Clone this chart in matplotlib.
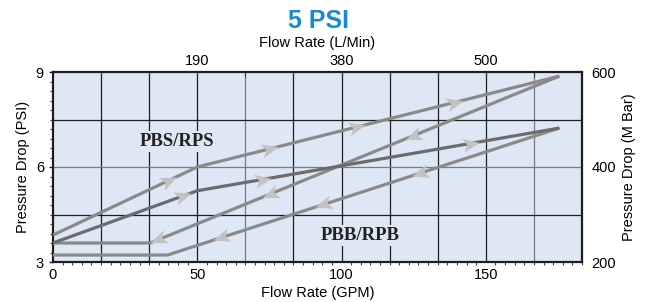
import numpy as np
import matplotlib
matplotlib.use("Agg")
import matplotlib.pyplot as plt
from matplotlib.path import Path
from matplotlib.markers import MarkerStyle
from matplotlib.transforms import Affine2D
from matplotlib.ticker import MultipleLocator, FixedLocator

plt.rcParams['font.family'] = ['Liberation Sans', 'DejaVu Sans']

# Data (GPM, PSI)
pbs_up_x = [0, 50, 175.5]
pbs_up_y = [3.85, 6.0, 8.87]
pbs_down_x = [175.5, 33.7, 0]
pbs_down_y = [8.87, 3.6, 3.6]
pbb_up_x = [0, 50, 175.5]
pbb_up_y = [3.6, 5.25, 7.23]
pbb_down_x = [175.5, 39.7, 0]
pbb_down_y = [7.23, 3.22, 3.22]

# where the flow arrows sit (GPM)
pbs_up_arrows = [39.7, 75, 105, 139]
pbs_down_arrows = [36.9, 75.5, 125]
pbb_up_arrows = [44.8, 72.4, 144.5]
pbb_down_arrows = [58.6, 93.8, 127.6]

top_ticks = [50, 100, 150]
top_labels = ['190', '380', '500']
right_ticks = [200, 400, 600]

BG = '#dee8f4'
LIGHT = '#8a8a8a'
DARK = '#6c6c6c'
ARROW = '#c2c2c2'

fig = plt.figure(figsize=(6.49, 3.02), dpi=100)
ax = fig.add_axes([53 / 649, 1 - 262 / 302, 529 / 649, 190 / 302])
ax.set_facecolor(BG)
ax.set_xlim(0, 550 / 3)
ax.set_ylim(3, 9)

# grid
for k in range(1, 11):
    c = '#7a7a7a' if k in (4, 10) else '#1e1e1e'
    ax.axvline(k * 50 / 3, color=c, lw=0.9, zorder=1)
for v in [4.5, 6.0, 7.5]:
    c = '#7a7a7a' if v == 6.0 else '#1e1e1e'
    ax.axhline(v, color=c, lw=0.9, zorder=1)

ax.plot(pbs_up_x, pbs_up_y, color=LIGHT, lw=2.3, zorder=3, solid_capstyle='butt')
ax.plot(pbs_down_x, pbs_down_y, color=LIGHT, lw=2.3, zorder=3, solid_capstyle='butt')
ax.plot(pbb_down_x, pbb_down_y, color=LIGHT, lw=2.3, zorder=3, solid_capstyle='butt')
ax.plot(pbb_up_x, pbb_up_y, color=DARK, lw=2.3, zorder=3, solid_capstyle='butt')

chevron = Path([(1, 0), (-0.8, 0.75), (-0.35, 0), (-0.8, -0.75), (1, 0)],
               [Path.MOVETO, Path.LINETO, Path.LINETO, Path.LINETO, Path.CLOSEPOLY])


def draw_arrows(px, py, xs, forward):
    order = np.argsort(px)
    sx = np.array(px)[order]
    sy = np.array(py)[order]
    for x in xs:
        y = np.interp(x, sx, sy)
        p0 = ax.transData.transform((x - 1, np.interp(x - 1, sx, sy)))
        p1 = ax.transData.transform((x + 1, np.interp(x + 1, sx, sy)))
        ang = np.degrees(np.arctan2(p1[1] - p0[1], p1[0] - p0[0]))
        if not forward:
            ang += 180
        m = MarkerStyle(chevron, transform=Affine2D().rotate_deg(ang))
        ax.plot([x], [y], marker=m, ms=13.5, color=ARROW, mec='none', zorder=4)


draw_arrows(pbs_up_x, pbs_up_y, pbs_up_arrows, True)
draw_arrows(pbs_down_x, pbs_down_y, pbs_down_arrows, False)
draw_arrows(pbb_up_x, pbb_up_y, pbb_up_arrows, True)
draw_arrows(pbb_down_x, pbb_down_y, pbb_down_arrows, False)

box = dict(facecolor=BG, edgecolor='none', pad=1.5)
ax.text(43, 6.8, 'PBS/RPS', family='Liberation Serif', weight='bold', fontsize=13.5,
        color='#222222', ha='center', va='center', zorder=2, bbox=box)
ax.text(106.5, 3.85, 'PBB/RPB', family='Liberation Serif', weight='bold', fontsize=13.5,
        color='#222222', ha='center', va='center', zorder=2, bbox=box)

# left / bottom axes
ax.set_xticks([0, 50, 100, 150])
ax.xaxis.set_minor_locator(MultipleLocator(10 / 3))
ax.set_yticks([3, 6, 9])
ax.yaxis.set_minor_locator(MultipleLocator(0.3))
ax.tick_params(axis='both', which='major', labelsize=10.5, length=3, width=1, color='#222222')
ax.tick_params(axis='both', which='minor', length=2.5, width=0.8, color='#444444')
ax.tick_params(axis='x', which='major', length=0, pad=4)
ax.set_xlabel('Flow Rate (GPM)', fontsize=10.5, labelpad=3)
ax.set_ylabel('Pressure Drop (PSI)', fontsize=10.5, labelpad=4)
for s in ax.spines.values():
    s.set_linewidth(1.6)
    s.set_color('#1e1e1e')

# top axis (L/Min)
axt = ax.twiny()
axt.set_xlim(ax.get_xlim())
axt.xaxis.set_major_locator(FixedLocator(top_ticks))
axt.set_xticklabels(top_labels)
axt.xaxis.set_minor_locator(FixedLocator([k * 50 / 3 for k in range(1, 11)]))
axt.tick_params(axis='x', which='both', direction='in', length=3.5, width=0.8,
                labelsize=10.5, pad=3, color='#333333')
axt.set_xlabel('Flow Rate (L/Min)', fontsize=10.5, labelpad=5)
for s in axt.spines.values():
    s.set_visible(False)

# right axis (M Bar)
axr = ax.twinx()
axr.set_ylim(200, 600)
axr.set_yticks(right_ticks)
axr.tick_params(axis='y', length=0, labelsize=10.5, pad=7)
axr.set_ylabel('Pressure Drop (M Bar)', fontsize=10.5, labelpad=4)
for s in axr.spines.values():
    s.set_visible(False)

fig.text(318 / 649, 1 - 21 / 302, '5 PSI', family=['Liberation Sans Narrow', 'Liberation Sans'],
         weight='bold', fontsize=18, color='#1a8ad0', ha='center', va='center')

fig.savefig('out.png', dpi=100)
